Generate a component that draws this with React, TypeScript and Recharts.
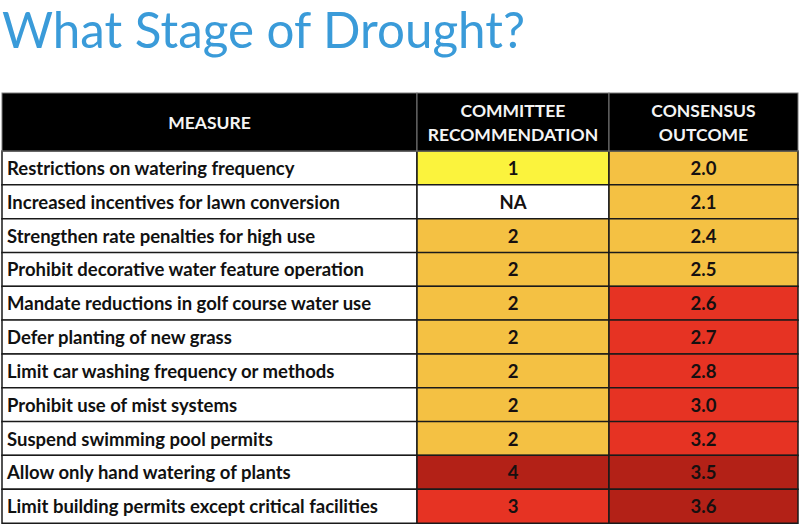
import React from "react";
import { BarChart, Bar, XAxis, YAxis, Cell, LabelList } from "recharts";

const title = "What Stage of Drought?";
const headers: string[][] = [["MEASURE"], ["COMMITTEE", "RECOMMENDATION"], ["CONSENSUS", "OUTCOME"]];
const measures = [
  "Restrictions on watering frequency",
  "Increased incentives for lawn conversion",
  "Strengthen rate penalties for high use",
  "Prohibit decorative water feature operation",
  "Mandate reductions in golf course water use",
  "Defer planting of new grass",
  "Limit car washing frequency or methods",
  "Prohibit use of mist systems",
  "Suspend swimming pool permits",
  "Allow only hand watering of plants",
  "Limit building permits except critical facilities",
];
const committee = ["1", "NA", "2", "2", "2", "2", "2", "2", "2", "4", "3"];
const consensus = [2.0, 2.1, 2.4, 2.5, 2.6, 2.7, 2.8, 3.0, 3.2, 3.5, 3.6];

// layout constants
const COL_W = [415, 192, 189];
const TOTAL = COL_W[0] + COL_W[1] + COL_W[2];
const COL_CENTERS = [COL_W[0] / 2, COL_W[0] + COL_W[1] / 2, COL_W[0] + COL_W[1] + COL_W[2] / 2];
const HEADER_H = 58;
const FONT = "Lato, 'Open Sans', sans-serif";

const YELLOW = "#FBF33D";
const GOLD = "#F4C143";
const RED = "#E63323";
const DARK = "#B32117";

const committeeColor = (v: string) =>
  v === "1" ? YELLOW : v === "2" ? GOLD : v === "3" ? RED : v === "4" ? DARK : "#FFFFFF";
const consensusColor = (v: number) => (v < 2.55 ? GOLD : v < 3.3 ? RED : DARK);

const rows = measures.map((m, i) => ({
  measure: m,
  committee: committee[i],
  consensus: consensus[i].toFixed(1),
  consensusVal: consensus[i],
}));

const HeaderTick = (props: any) => {
  const { x, y, payload } = props;
  const idx = COL_CENTERS.findIndex((c) => Math.abs(c - payload.value) < 0.01);
  const w = COL_W[idx] ?? 0;
  const lines = headers[idx] ?? [];
  const top = y - HEADER_H;
  return (
    <g>
      <rect x={x - w / 2} y={top} width={w} height={HEADER_H} fill="#000" stroke="#7a7a7a" strokeWidth={1} />
      {lines.map((l, j) => (
        <text
          key={j}
          x={x}
          y={top + HEADER_H / 2 + (j - (lines.length - 1) / 2) * 24}
          textAnchor="middle"
          dominantBaseline="central"
          fill="#f4f4f4"
          fontFamily={FONT}
          fontWeight={700}
          fontSize={17.5}
        >
          {l}
        </text>
      ))}
    </g>
  );
};

const LeftLabel = (props: any) => {
  const { x, y, height, value } = props;
  return (
    <text x={x + 5} y={y + height / 2} dominantBaseline="central" fill="#111" fontFamily={FONT} fontWeight={700} fontSize={18.5}>
      {value}
    </text>
  );
};

const CenterLabel = (props: any) => {
  const { x, y, width, height, value } = props;
  return (
    <text
      x={x + width / 2}
      y={y + height / 2}
      textAnchor="middle"
      dominantBaseline="central"
      fill="#161010"
      fontFamily={FONT}
      fontWeight={700}
      fontSize={18.5}
    >
      {value}
    </text>
  );
};

export default function App() {
  return (
    <div style={{ position: "absolute", left: 0, top: 0, width: 800, height: 524, background: "#fff", overflow: "hidden" }}>
      <svg width={800} height={80} style={{ position: "absolute", left: 0, top: 0 }}>
        <text x={2} y={48} fill="#3A9BD9" fontFamily={FONT} fontSize={50} textLength={523} lengthAdjust="spacingAndGlyphs">
          {title}
        </text>
      </svg>
      <div style={{ position: "absolute", left: 0, top: 0 }}>
        <BarChart
          width={800}
          height={524}
          data={rows}
          layout="vertical"
          margin={{ top: 93, right: 2, bottom: 1, left: 2 }}
          barCategoryGap={0}
        >
          <XAxis
            type="number"
            domain={[0, TOTAL]}
            orientation="top"
            ticks={COL_CENTERS}
            interval={0}
            tick={<HeaderTick />}
            tickLine={false}
            axisLine={false}
            tickSize={0}
            tickMargin={0}
            height={HEADER_H}
          />
          <YAxis type="category" dataKey="measure" hide />
          <Bar dataKey={() => COL_W[0]} stackId="t" fill="#fff" stroke="#1a1a1a" strokeWidth={1.5} isAnimationActive={false}>
            <LabelList dataKey="measure" content={<LeftLabel />} />
          </Bar>
          <Bar dataKey={() => COL_W[1]} stackId="t" stroke="#1a1a1a" strokeWidth={1.5} isAnimationActive={false}>
            {rows.map((r, i) => (
              <Cell key={i} fill={committeeColor(r.committee)} />
            ))}
            <LabelList dataKey="committee" content={<CenterLabel />} />
          </Bar>
          <Bar dataKey={() => COL_W[2]} stackId="t" stroke="#1a1a1a" strokeWidth={1.5} isAnimationActive={false}>
            {rows.map((r, i) => (
              <Cell key={i} fill={consensusColor(r.consensusVal)} />
            ))}
            <LabelList dataKey="consensus" content={<CenterLabel />} />
          </Bar>
        </BarChart>
      </div>
    </div>
  );
}
